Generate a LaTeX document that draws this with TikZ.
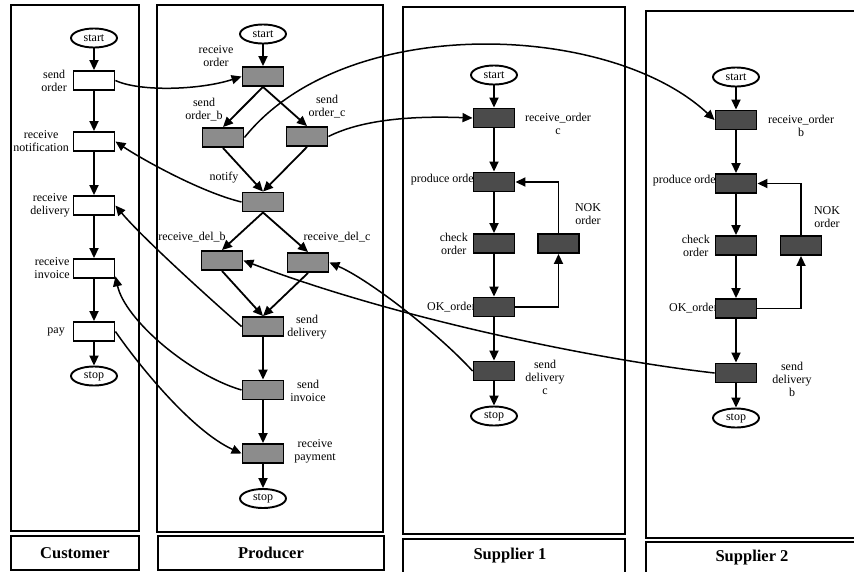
\documentclass[tikz,border=0pt]{standalone}
\usepackage{fontspec}
\setmainfont{Liberation Serif}
\usetikzlibrary{shapes.geometric,arrows.meta}
\definecolor{pgray}{RGB}{140,140,140}
\definecolor{pdark}{RGB}{75,75,75}
\newcommand\lblfont{\fontsize{12}{13}\selectfont}
\newcommand\ttlfont{\fontsize{16.5}{17}\selectfont}
\begin{document}
\begin{tikzpicture}[x=1pt,y=-1pt,
 lane/.style={draw, line width=2pt},
 tbase/.style={draw, line width=1.9pt, minimum width=41pt, minimum height=19pt, inner sep=0pt},
 tw/.style={tbase, fill=white},
 tg/.style={tbase, fill=pgray},
 td/.style={tbase, fill=pdark},
 place/.style={draw, ellipse, line width=1.9pt, minimum width=46pt, minimum height=19pt, inner sep=0pt, font=\lblfont, fill=white},
 lbl/.style={font=\lblfont, align=center, inner sep=0pt},
 arr/.style={line width=1.8pt, -{Triangle[length=10pt,width=9pt]}},
 flow/.style={line width=1.5pt, -{Triangle[length=10pt,width=9pt]}},
 ttl/.style={font=\ttlfont\bfseries, inner sep=0pt}]
\useasboundingbox (0,0) rectangle (854,571);

% lanes
\draw[lane] (11,5) rectangle (139,531);
\draw[lane] (157,5) rectangle (383,532);
\draw[lane] (403,7) rectangle (625,534);
\draw[lane] (646,11) rectangle (860,538);
% title boxes
\draw[lane] (11,536) rectangle (139,570);
\draw[lane] (158,536) rectangle (384,570);
\draw[lane] (403,539) rectangle (625,580);
\draw[lane] (646,542) rectangle (860,580);
\node[ttl] (tcust) at (75,553) {Customer};
\node[ttl] (tprod) at (271,553) {Producer};
\node[ttl] (tsup1) at (510,556) {Supplier 1};
\node[ttl] (tsup2) at (752,558) {Supplier 2};

% labels
\node[lbl, anchor=east] (lcso) at (67,80.5) {send\\order};
\node[lbl, anchor=east] (lcrn) at (69,141.5) {receive\\notification};
\node[lbl, anchor=east] (lcrd) at (70,205.5) {receive\\delivery};
\node[lbl, anchor=east] (lcri) at (70,268.5) {receive\\invoice};
\node[lbl, anchor=east] (lcpay) at (65,331.5) {pay};

\node[lbl] (lpro) at (216,56) {receive\\order};
\node[lbl] (lpsb) at (204,110) {send\\order\_b};
\node[lbl] (lpsc) at (327,107) {send\\order\_c};
\node[lbl] (lpnot) at (224,178) {notify};
\node[lbl] (lprdb) at (192,237) {receive\_del\_b};
\node[lbl] (lprdc) at (337,237) {receive\_del\_c};
\node[lbl] (lpsd) at (307,327.5) {send\\delivery};
\node[lbl] (lpsi) at (308,391) {send\\invoice};
\node[lbl] (lprp) at (315,451) {receive\\payment};

\node[lbl] (ls1ro) at (558,123.5) {receive\_order\\c};
\node[lbl, anchor=east] (ls1po) at (478,180) {produce order};
\node[lbl, anchor=east] (ls1co) at (468,243.5) {check\\order};
\node[lbl] (ls1nok) at (588,214) {NOK\\order};
\node[lbl, anchor=east] (ls1ok) at (476,307) {OK\_order};
\node[lbl] (ls1sd) at (545,377) {send\\delivery\\c};

\node[lbl] (ls2ro) at (801,126) {receive\_order\\b};
\node[lbl, anchor=east] (ls2po) at (720,181) {produce order};
\node[lbl, anchor=east] (ls2co) at (710,245.5) {check\\order};
\node[lbl] (ls2nok) at (827,217) {NOK\\order};
\node[lbl, anchor=east] (ls2ok) at (718,308.5) {OK\_order};
\node[lbl] (ls2sd) at (792,379) {send\\delivery\\b};

% customer
\node[place] (cstart) at (94,38) {start};
\node[tw] (cso) at (94,80.5) {};
\node[tw] (crn) at (94,141.5) {};
\node[tw] (crd) at (94,205.5) {};
\node[tw] (cri) at (94,268.5) {};
\node[tw] (cpay) at (94,331.5) {};
\node[place] (cstop) at (94,376) {stop};

% producer
\node[place] (pstart) at (263,34) {start};
\node[tg] (pro) at (263,76.5) {};
\node[tg] (psb) at (223,137.5) {};
\node[tg] (psc) at (307,136.5) {};
\node[tg] (pnot) at (263,202) {};
\node[tg] (prdb) at (222,260.5) {};
\node[tg] (prdc) at (308,262.5) {};
\node[tg] (psd) at (263,326.5) {};
\node[tg] (psi) at (263,390) {};
\node[tg] (prp) at (263,453.5) {};
\node[place] (pstop) at (263,498.5) {stop};

% supplier 1
\node[place] (s1start) at (494,75) {start};
\node[td] (s1ro) at (494,118) {};
\node[td] (s1po) at (494,182) {};
\node[td] (s1co) at (494,243.5) {};
\node[td] (s1nok) at (558.5,243.5) {};
\node[td] (s1ok) at (494,307) {};
\node[td] (s1sd) at (494,371) {};
\node[place] (s1stop) at (494,416) {stop};

% supplier 2
\node[place] (s2start) at (736,77) {start};
\node[td] (s2ro) at (736,120) {};
\node[td] (s2po) at (736,183.5) {};
\node[td] (s2co) at (736,245.5) {};
\node[td] (s2nok) at (801,245.5) {};
\node[td] (s2ok) at (736,308.5) {};
\node[td] (s2sd) at (736,373) {};
\node[place] (s2stop) at (736,418) {stop};

% customer flow
\draw[arr] (cstart) -- (cso);
\draw[arr] (cso) -- (crn);
\draw[arr] (crn) -- (crd);
\draw[arr] (crd) -- (cri);
\draw[arr] (cri) -- (cpay);
\draw[arr] (cpay) -- (cstop);

% producer flow
\draw[arr] (pstart) -- (pro);
\draw[arr] (pro.south) -- (psb.north);
\draw[arr] (pro.south) -- (psc.north);
\draw[arr] (psb.south) -- (pnot.north);
\draw[arr] (psc.south) -- (pnot.north);
\draw[arr] (pnot.south) -- (prdb.north);
\draw[arr] (pnot.south) -- (prdc.north);
\draw[arr] (prdb.south) -- (psd.north);
\draw[arr] (prdc.south) -- (psd.north);
\draw[arr] (psd) -- (psi);
\draw[arr] (psi) -- (prp);
\draw[arr] (prp) -- (pstop);

% supplier 1 flow
\draw[arr] (s1start) -- (s1ro);
\draw[arr] (s1ro) -- (s1po);
\draw[arr] (s1po) -- (s1co);
\draw[arr] (s1co) -- (s1ok);
\draw[arr] (s1ok) -- (s1sd);
\draw[arr] (s1sd) -- (s1stop);
\draw[arr] (s1ok.east) -| (s1nok.south);
\draw[arr] (s1nok.north) |- (s1po.east);

% supplier 2 flow
\draw[arr] (s2start) -- (s2ro);
\draw[arr] (s2ro) -- (s2po);
\draw[arr] (s2po) -- (s2co);
\draw[arr] (s2co) -- (s2ok);
\draw[arr] (s2ok) -- (s2sd);
\draw[arr] (s2sd) -- (s2stop);
\draw[arr] (s2ok.east) -| (s2nok.south);
\draw[arr] (s2nok.north) |- (s2po.east);

% messages between lanes
\draw[flow] (cso.east) .. controls (140,92) and (200,90) .. (pro.west);
\draw[flow] (pnot.west) .. controls (200,192) and (140,158) .. (crn.east);
\draw[flow] (psb.east) .. controls (345,12) and (610,22) .. (s2ro.west);
\draw[flow] (psc.east) .. controls (365,118) and (420,116) .. (s1ro.west);
\draw[flow] (psd.west) .. controls (200,290) and (140,235) .. (crd.east);
\draw[flow] (psi.west) .. controls (190,375) and (125,320) .. (cri.-20);
\draw[flow] (cpay.east) .. controls (135,360) and (190,430) .. (prp.west);
\draw[flow] (s1sd.west) .. controls (440,335) and (370,280) .. (prdc.east);
\draw[flow] (s2sd.west) .. controls (600,360) and (400,320) .. (prdb.east);
\end{tikzpicture}
\end{document}
